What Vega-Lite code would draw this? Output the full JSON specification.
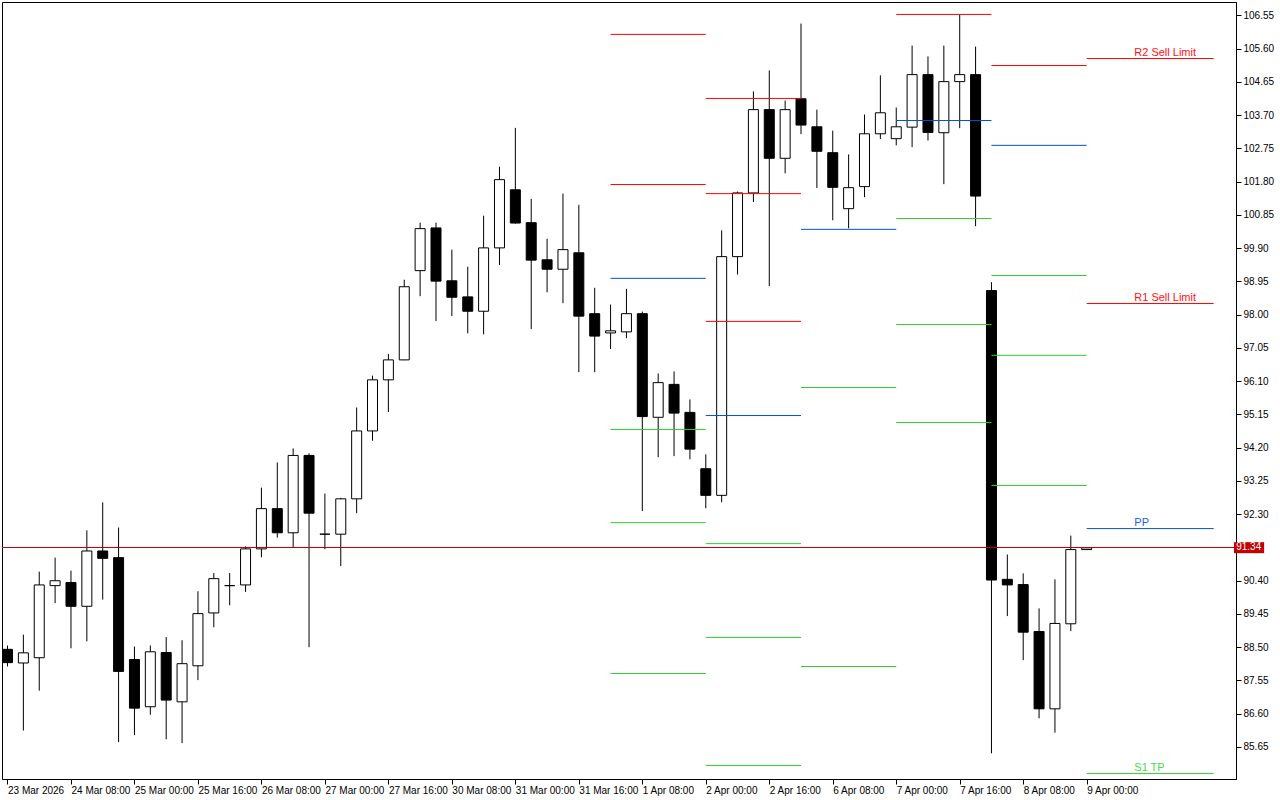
{
  "$schema": "https://vega.github.io/schema/vega-lite/v6.json",
  "width": 1234,
  "height": 777,
  "autosize": {"type": "none"},
  "padding": {"left": 2, "top": 2, "right": 44, "bottom": 21},
  "background": "white",
  "config": {
    "view": {"stroke": "black", "strokeWidth": 1},
    "axis": {"labelFont": "Liberation Sans", "labelColor": "black", "domainColor": "black", "tickColor": "black", "grid": false, "title": null, "labelOverlap": false, "labelBound": false, "labelFlush": false, "tickSize": 5, "labelFontSize": 10, "tickCount": 60},
    "axisX": {"labelAlign": "left", "labelBaseline": "top", "labelPadding": 1},
    "axisY": {"labelPadding": 2}
  },
  "datasets": {
    "candles": [
      {"i": 0, "t": "23 Mar 16:00", "o": 88.44, "h": 88.55, "l": 87.95, "c": 88.06},
      {"i": 1, "t": "23 Mar 20:00", "o": 88.05, "h": 88.86, "l": 86.12, "c": 88.34},
      {"i": 2, "t": "24 Mar 00:00", "o": 88.20, "h": 90.66, "l": 87.26, "c": 90.28},
      {"i": 3, "t": "24 Mar 04:00", "o": 90.26, "h": 91.06, "l": 89.76, "c": 90.40},
      {"i": 4, "t": "24 Mar 08:00", "o": 90.35, "h": 90.69, "l": 88.47, "c": 89.67},
      {"i": 5, "t": "24 Mar 12:00", "o": 89.67, "h": 91.84, "l": 88.67, "c": 91.25},
      {"i": 6, "t": "24 Mar 16:00", "o": 91.25, "h": 92.64, "l": 89.86, "c": 91.04},
      {"i": 7, "t": "24 Mar 20:00", "o": 91.06, "h": 91.92, "l": 85.79, "c": 87.81},
      {"i": 8, "t": "25 Mar 00:00", "o": 88.15, "h": 88.52, "l": 85.99, "c": 86.76},
      {"i": 9, "t": "25 Mar 04:00", "o": 86.80, "h": 88.55, "l": 86.57, "c": 88.37},
      {"i": 10, "t": "25 Mar 08:00", "o": 88.35, "h": 88.79, "l": 85.87, "c": 86.99},
      {"i": 11, "t": "25 Mar 12:00", "o": 86.94, "h": 88.70, "l": 85.76, "c": 88.03},
      {"i": 12, "t": "25 Mar 16:00", "o": 87.97, "h": 90.10, "l": 87.56, "c": 89.46},
      {"i": 13, "t": "25 Mar 20:00", "o": 89.48, "h": 90.62, "l": 89.07, "c": 90.46},
      {"i": 14, "t": "26 Mar 00:00", "o": 90.26, "h": 90.62, "l": 89.70, "c": 90.26},
      {"i": 15, "t": "26 Mar 04:00", "o": 90.28, "h": 91.38, "l": 90.08, "c": 91.31},
      {"i": 16, "t": "26 Mar 08:00", "o": 91.31, "h": 93.06, "l": 91.07, "c": 92.46},
      {"i": 17, "t": "26 Mar 12:00", "o": 92.46, "h": 93.78, "l": 91.63, "c": 91.77},
      {"i": 18, "t": "26 Mar 16:00", "o": 91.77, "h": 94.18, "l": 91.34, "c": 93.98},
      {"i": 19, "t": "26 Mar 20:00", "o": 93.98, "h": 94.04, "l": 88.50, "c": 92.33},
      {"i": 20, "t": "27 Mar 00:00", "o": 91.73, "h": 92.89, "l": 91.30, "c": 91.73},
      {"i": 21, "t": "27 Mar 04:00", "o": 91.73, "h": 92.77, "l": 90.82, "c": 92.74},
      {"i": 22, "t": "27 Mar 08:00", "o": 92.74, "h": 95.35, "l": 92.33, "c": 94.68},
      {"i": 23, "t": "27 Mar 12:00", "o": 94.68, "h": 96.26, "l": 94.40, "c": 96.14},
      {"i": 24, "t": "27 Mar 16:00", "o": 96.14, "h": 96.88, "l": 95.22, "c": 96.71},
      {"i": 25, "t": "27 Mar 20:00", "o": 96.71, "h": 99.00, "l": 96.70, "c": 98.80},
      {"i": 26, "t": "30 Mar 00:00", "o": 99.26, "h": 100.63, "l": 98.53, "c": 100.46},
      {"i": 27, "t": "30 Mar 04:00", "o": 100.48, "h": 100.63, "l": 97.82, "c": 98.96},
      {"i": 28, "t": "30 Mar 08:00", "o": 98.97, "h": 99.86, "l": 97.96, "c": 98.50},
      {"i": 29, "t": "30 Mar 12:00", "o": 98.51, "h": 99.37, "l": 97.47, "c": 98.10},
      {"i": 30, "t": "30 Mar 16:00", "o": 98.10, "h": 100.83, "l": 97.44, "c": 99.91},
      {"i": 31, "t": "30 Mar 20:00", "o": 99.91, "h": 102.23, "l": 99.42, "c": 101.86},
      {"i": 32, "t": "31 Mar 00:00", "o": 101.57, "h": 103.34, "l": 100.60, "c": 100.62},
      {"i": 33, "t": "31 Mar 04:00", "o": 100.63, "h": 101.31, "l": 97.59, "c": 99.56},
      {"i": 34, "t": "31 Mar 08:00", "o": 99.57, "h": 100.17, "l": 98.64, "c": 99.30},
      {"i": 35, "t": "31 Mar 12:00", "o": 99.30, "h": 101.46, "l": 98.33, "c": 99.86},
      {"i": 36, "t": "31 Mar 16:00", "o": 99.77, "h": 101.14, "l": 96.36, "c": 97.96},
      {"i": 37, "t": "31 Mar 20:00", "o": 98.03, "h": 98.77, "l": 96.36, "c": 97.39},
      {"i": 38, "t": "1 Apr 00:00", "o": 97.48, "h": 98.29, "l": 97.02, "c": 97.54},
      {"i": 39, "t": "1 Apr 04:00", "o": 97.51, "h": 98.74, "l": 97.33, "c": 98.03},
      {"i": 40, "t": "1 Apr 08:00", "o": 98.03, "h": 98.09, "l": 92.39, "c": 95.09},
      {"i": 41, "t": "1 Apr 12:00", "o": 95.07, "h": 96.32, "l": 93.93, "c": 96.06},
      {"i": 42, "t": "1 Apr 16:00", "o": 96.01, "h": 96.38, "l": 93.96, "c": 95.19},
      {"i": 43, "t": "1 Apr 20:00", "o": 95.21, "h": 95.58, "l": 93.87, "c": 94.16},
      {"i": 44, "t": "2 Apr 00:00", "o": 93.60, "h": 94.01, "l": 92.47, "c": 92.84},
      {"i": 45, "t": "2 Apr 04:00", "o": 92.84, "h": 100.41, "l": 92.64, "c": 99.66},
      {"i": 46, "t": "2 Apr 08:00", "o": 99.66, "h": 101.52, "l": 99.15, "c": 101.48},
      {"i": 47, "t": "2 Apr 12:00", "o": 101.48, "h": 104.38, "l": 101.22, "c": 103.86},
      {"i": 48, "t": "2 Apr 16:00", "o": 103.86, "h": 104.98, "l": 98.82, "c": 102.47},
      {"i": 49, "t": "2 Apr 20:00", "o": 102.47, "h": 104.12, "l": 102.04, "c": 103.86},
      {"i": 50, "t": "6 Apr 00:00", "o": 104.17, "h": 106.32, "l": 103.16, "c": 103.42},
      {"i": 51, "t": "6 Apr 04:00", "o": 103.37, "h": 103.86, "l": 101.62, "c": 102.67},
      {"i": 52, "t": "6 Apr 08:00", "o": 102.63, "h": 103.26, "l": 100.70, "c": 101.64},
      {"i": 53, "t": "6 Apr 12:00", "o": 101.03, "h": 102.58, "l": 100.47, "c": 101.63},
      {"i": 54, "t": "6 Apr 16:00", "o": 101.66, "h": 103.72, "l": 101.36, "c": 103.17},
      {"i": 55, "t": "6 Apr 20:00", "o": 103.17, "h": 104.84, "l": 103.02, "c": 103.77},
      {"i": 56, "t": "7 Apr 00:00", "o": 103.03, "h": 103.92, "l": 102.84, "c": 103.37},
      {"i": 57, "t": "7 Apr 04:00", "o": 103.36, "h": 105.69, "l": 102.79, "c": 104.86},
      {"i": 58, "t": "7 Apr 08:00", "o": 104.86, "h": 105.38, "l": 102.98, "c": 103.21},
      {"i": 59, "t": "7 Apr 12:00", "o": 103.20, "h": 105.69, "l": 101.73, "c": 104.66},
      {"i": 60, "t": "7 Apr 16:00", "o": 104.66, "h": 106.57, "l": 103.33, "c": 104.86},
      {"i": 61, "t": "7 Apr 20:00", "o": 104.86, "h": 105.66, "l": 100.53, "c": 101.39},
      {"i": 62, "t": "8 Apr 00:00", "o": 98.69, "h": 98.93, "l": 85.47, "c": 90.42},
      {"i": 63, "t": "8 Apr 04:00", "o": 90.44, "h": 91.15, "l": 89.39, "c": 90.28},
      {"i": 64, "t": "8 Apr 08:00", "o": 90.29, "h": 90.61, "l": 88.13, "c": 88.93},
      {"i": 65, "t": "8 Apr 12:00", "o": 88.95, "h": 89.61, "l": 86.47, "c": 86.74},
      {"i": 66, "t": "8 Apr 16:00", "o": 86.74, "h": 90.44, "l": 86.06, "c": 89.18},
      {"i": 67, "t": "8 Apr 20:00", "o": 89.17, "h": 91.69, "l": 88.96, "c": 91.29},
      {"i": 68, "t": "9 Apr 00:00", "o": 91.29, "h": 91.35, "l": 91.28, "c": 91.34}
    ],
    "pivots": [
      {"s": 38, "e": 44, "v": 106.01, "k": "R"},
      {"s": 38, "e": 44, "v": 101.72, "k": "R"},
      {"s": 38, "e": 44, "v": 99.04, "k": "P"},
      {"s": 38, "e": 44, "v": 94.72, "k": "S"},
      {"s": 38, "e": 44, "v": 92.06, "k": "S"},
      {"s": 38, "e": 44, "v": 87.75, "k": "S"},
      {"s": 44, "e": 50, "v": 104.18, "k": "R"},
      {"s": 44, "e": 50, "v": 101.46, "k": "R"},
      {"s": 44, "e": 50, "v": 97.81, "k": "R"},
      {"s": 44, "e": 50, "v": 95.12, "k": "P"},
      {"s": 44, "e": 50, "v": 91.46, "k": "S"},
      {"s": 44, "e": 50, "v": 88.78, "k": "S"},
      {"s": 44, "e": 50, "v": 85.12, "k": "S"},
      {"s": 50, "e": 56, "v": 100.44, "k": "P"},
      {"s": 50, "e": 56, "v": 95.92, "k": "S"},
      {"s": 50, "e": 56, "v": 87.95, "k": "S"},
      {"s": 56, "e": 62, "v": 106.58, "k": "R"},
      {"s": 56, "e": 62, "v": 103.55, "k": "P"},
      {"s": 56, "e": 62, "v": 100.75, "k": "S"},
      {"s": 56, "e": 62, "v": 97.72, "k": "S"},
      {"s": 56, "e": 62, "v": 94.92, "k": "S"},
      {"s": 62, "e": 68, "v": 105.12, "k": "R"},
      {"s": 62, "e": 68, "v": 102.84, "k": "P"},
      {"s": 62, "e": 68, "v": 99.12, "k": "S"},
      {"s": 62, "e": 68, "v": 96.84, "k": "S"},
      {"s": 62, "e": 68, "v": 93.12, "k": "S"},
      {"s": 68, "e": 76, "v": 105.32, "k": "R", "label": "R2 Sell Limit"},
      {"s": 68, "e": 76, "v": 98.32, "k": "R", "label": "R1 Sell Limit"},
      {"s": 68, "e": 76, "v": 91.89, "k": "P", "label": "PP"},
      {"s": 68, "e": 76, "v": 84.89, "k": "S", "label": "S1 TP"}
    ]
  },
  "layer": [
    {
      "data": {"name": "candles"},
      "mark": {"type": "rule", "color": "black", "strokeWidth": 1, "clip": true},
      "encoding": {
        "x": {
          "field": "i", "type": "quantitative",
          "scale": {"domain": [-0.03125, 77.09375], "nice": false, "zero": false},
          "axis": {
            "values": [0, 4, 8, 12, 16, 20, 24, 28, 32, 36, 40, 44, 48, 52, 56, 60, 64, 68],
            "tickCount": 60,
            "labelExpr": "['23 Mar 2026','24 Mar 08:00','25 Mar 00:00','25 Mar 16:00','26 Mar 08:00','27 Mar 00:00','27 Mar 16:00','30 Mar 08:00','31 Mar 00:00','31 Mar 16:00','1 Apr 08:00','2 Apr 00:00','2 Apr 16:00','6 Apr 08:00','7 Apr 00:00','7 Apr 16:00','8 Apr 08:00','9 Apr 00:00'][round(datum.value/4)]"
          }
        },
        "y": {
          "field": "l", "type": "quantitative",
          "scale": {"domain": [84.7353, 106.9353], "nice": false, "zero": false},
          "axis": {
            "orient": "right",
            "tickCount": 60,
            "values": [85.65, 86.6, 87.55, 88.5, 89.45, 90.4, 92.3, 93.25, 94.2, 95.15, 96.1, 97.05, 98.0, 98.95, 99.9, 100.85, 101.8, 102.75, 103.7, 104.65, 105.6, 106.55],
            "format": ".2f"
          }
        },
        "y2": {"field": "h"}
      }
    },
    {
      "data": {"name": "candles"},
      "mark": {"type": "bar", "width": 10, "stroke": "black", "strokeWidth": 1, "clip": true, "orient": "vertical"},
      "encoding": {
        "x": {"field": "i", "type": "quantitative"},
        "y": {"field": "o", "type": "quantitative"},
        "y2": {"field": "c"},
        "fill": {"condition": {"test": "datum.c >= datum.o", "value": "white"}, "value": "black"}
      }
    },
    {
      "data": {"name": "pivots"},
      "mark": {"type": "rule", "strokeWidth": 1, "clip": true},
      "encoding": {
        "x": {"field": "s", "type": "quantitative"},
        "x2": {"field": "e"},
        "y": {"field": "v", "type": "quantitative"},
        "stroke": {"field": "k", "type": "nominal", "scale": {"domain": ["R", "P", "S"], "range": ["#ff0000", "#0050dc", "#33cc33"]}, "legend": null}
      }
    },
    {
      "data": {"name": "pivots"},
      "transform": [{"filter": "datum.label != null"}],
      "mark": {"type": "text", "align": "left", "baseline": "alphabetic", "dy": -3, "font": "Liberation Sans", "fontSize": 11, "clip": true},
      "encoding": {
        "x": {"datum": 71},
        "y": {"field": "v", "type": "quantitative"},
        "text": {"field": "label"},
        "fill": {"field": "k", "type": "nominal", "scale": {"domain": ["R", "P", "S"], "range": ["#ff1010", "#1a5cff", "#44dd44"]}, "legend": null}
      }
    },
    {
      "data": {"values": [{}]},
      "mark": {"type": "rule", "color": "#c00000", "strokeWidth": 1},
      "encoding": {"y": {"datum": 91.35}}
    },
    {
      "data": {"values": [{}]},
      "mark": {"type": "rect", "color": "#c40000", "clip": false},
      "encoding": {
        "x": {"datum": 77.28},
        "x2": {"datum": 79.18},
        "y": {"datum": 91.187},
        "y2": {"datum": 91.502}
      }
    },
    {
      "data": {"values": [{}]},
      "mark": {"type": "text", "color": "white", "align": "left", "baseline": "middle", "font": "Liberation Sans", "fontSize": 10, "clip": false},
      "encoding": {
        "x": {"datum": 77.42},
        "y": {"datum": 91.35},
        "text": {"value": "91.34"}
      }
    }
  ]
}
